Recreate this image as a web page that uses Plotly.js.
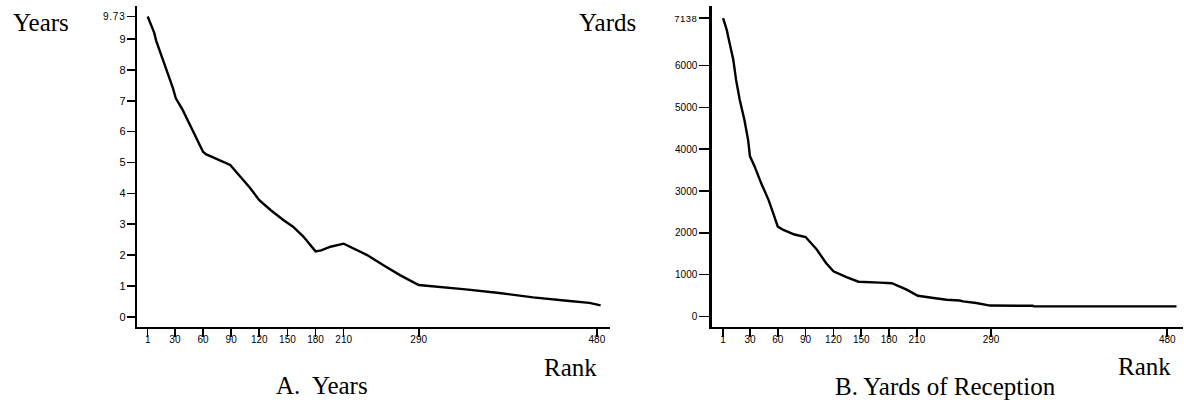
<!DOCTYPE html>
<html>
<head>
<meta charset="utf-8">
<script src="https://cdn.plot.ly/plotly-3.0.1.min.js"></script>
<style>html,body{margin:0;padding:0;background:#fff;}#chart{width:1184px;height:406px;}</style>
</head>
<body>
<div id="chart"></div>
<script>
// Panel A: Years by rank
const rankA  = [1, 5, 8, 10, 16, 22, 28, 31, 38, 46, 53, 60, 63, 78, 89, 101, 110, 120, 132, 146, 156, 167, 180, 186, 196, 210, 218, 235, 252, 270, 290, 305, 340, 376, 412, 448, 472, 484];
const yearsA = [9.73, 9.45, 9.2, 8.95, 8.45, 7.95, 7.4, 7.08, 6.72, 6.22, 5.8, 5.35, 5.27, 5.08, 4.92, 4.5, 4.18, 3.78, 3.46, 3.13, 2.92, 2.6, 2.12, 2.15, 2.27, 2.37, 2.25, 2.0, 1.68, 1.35, 1.03, 0.99, 0.89, 0.77, 0.63, 0.52, 0.45, 0.37];

// Panel B: Yards of reception by rank
const rankB  = [1, 5, 8, 12, 15, 19, 24, 28, 30, 35, 42, 50, 55, 60, 66, 78, 90, 102, 112, 120, 134, 147, 170, 183, 199, 211, 228, 242, 256, 260, 274, 289, 335, 336, 490];
const yardsB = [7138, 6850, 6540, 6140, 5660, 5180, 4700, 4220, 3830, 3590, 3190, 2790, 2470, 2150, 2070, 1960, 1900, 1600, 1280, 1080, 940, 830, 810, 795, 640, 495, 440, 400, 380, 360, 320, 260, 255, 240, 240];

// Tick labels
const rankTicks  = [1, 30, 60, 90, 120, 150, 180, 210, 290, 480];
const yearsTicks = [0, 1, 2, 3, 4, 5, 6, 7, 8, 9, 9.73];
const yardsTicks = [0, 1000, 2000, 3000, 4000, 5000, 6000, 7138];

const W = 1184, H = 406;
const px = v => v / W;
const py = v => 1 - v / H;

function tickText(vals, maxVal, style) {
  return vals.map(v => v === maxVal ? '<span style="' + style + '">' + v + '</span>' : String(v));
}

const sans = 'Liberation Sans, Arial, sans-serif';
const commonAxis = {
  showline: true, linecolor: '#000', linewidth: 2.2,
  ticks: 'outside', ticklen: 8, tickwidth: 1.6, tickcolor: '#000',
  showgrid: false, zeroline: false, fixedrange: true
};
const xAxisStyle = Object.assign({}, commonAxis, {
  tickfont: {family: sans, size: 10, color: '#000'}, ticklabelstandoff: -6,
  tickmode: 'array', tickvals: rankTicks, ticktext: rankTicks.map(String)
});

const traces = [
  {x: rankA, y: yearsA, xaxis: 'x', yaxis: 'y', type: 'scatter', mode: 'lines',
   line: {color: '#000', width: 2.4}, hoverinfo: 'skip'},
  {x: rankB, y: yardsB, xaxis: 'x2', yaxis: 'y2', type: 'scatter', mode: 'lines',
   line: {color: '#000', width: 2.4}, hoverinfo: 'skip'}
];

const yDomain = [(H - 327) / H, (H - 6) / H];

const serif = {family: 'Liberation Serif, Times New Roman, serif', size: 25, color: '#000'};

const layout = {
  width: W, height: H,
  margin: {l: 0, r: 0, t: 0, b: 0},
  paper_bgcolor: '#fff', plot_bgcolor: '#fff',
  showlegend: false,
  xaxis: Object.assign({}, xAxisStyle, {domain: [px(137), px(610)], range: [-10.4, 494], anchor: 'y'}),
  yaxis: Object.assign({}, commonAxis, {domain: yDomain, range: [-0.33, 10.07], anchor: 'x',
    tickfont: {family: sans, size: 11, color: '#000'}, ticklabelstandoff: -1,
    tickmode: 'array', tickvals: yearsTicks,
    ticktext: tickText(yearsTicks, 9.73, 'font-size:10px;letter-spacing:0.8px')}),
  xaxis2: Object.assign({}, xAxisStyle, {domain: [px(711.5), px(1183)], range: [-11.5, 497], anchor: 'y2'}),
  yaxis2: Object.assign({}, commonAxis, {domain: yDomain, range: [-253, 7428], anchor: 'x2',
    tickfont: {family: sans, size: 10, color: '#000'}, ticklen: 10,
    tickmode: 'array', tickvals: yardsTicks,
    ticktext: tickText(yardsTicks, 7138, 'font-size:9.5px;letter-spacing:0.5px')}),
  annotations: [
    {text: 'Years', xref: 'paper', yref: 'paper', x: px(41), y: py(23), xanchor: 'center', yanchor: 'middle', showarrow: false, font: serif},
    {text: 'Rank', xref: 'paper', yref: 'paper', x: px(570), y: py(367), xanchor: 'center', yanchor: 'middle', showarrow: false, font: serif},
    {text: 'A.  Years', xref: 'paper', yref: 'paper', x: px(322), y: py(385), xanchor: 'center', yanchor: 'middle', showarrow: false, font: serif},
    {text: 'Yards', xref: 'paper', yref: 'paper', x: px(607), y: py(23), xanchor: 'center', yanchor: 'middle', showarrow: false, font: serif},
    {text: 'Rank', xref: 'paper', yref: 'paper', x: px(1144), y: py(366), xanchor: 'center', yanchor: 'middle', showarrow: false, font: serif},
    {text: 'B. Yards of Reception', xref: 'paper', yref: 'paper', x: px(945), y: py(386), xanchor: 'center', yanchor: 'middle', showarrow: false, font: serif}
  ]
};

Plotly.newPlot('chart', traces, layout, {staticPlot: true, displayModeBar: false});
</script>
</body>
</html>
